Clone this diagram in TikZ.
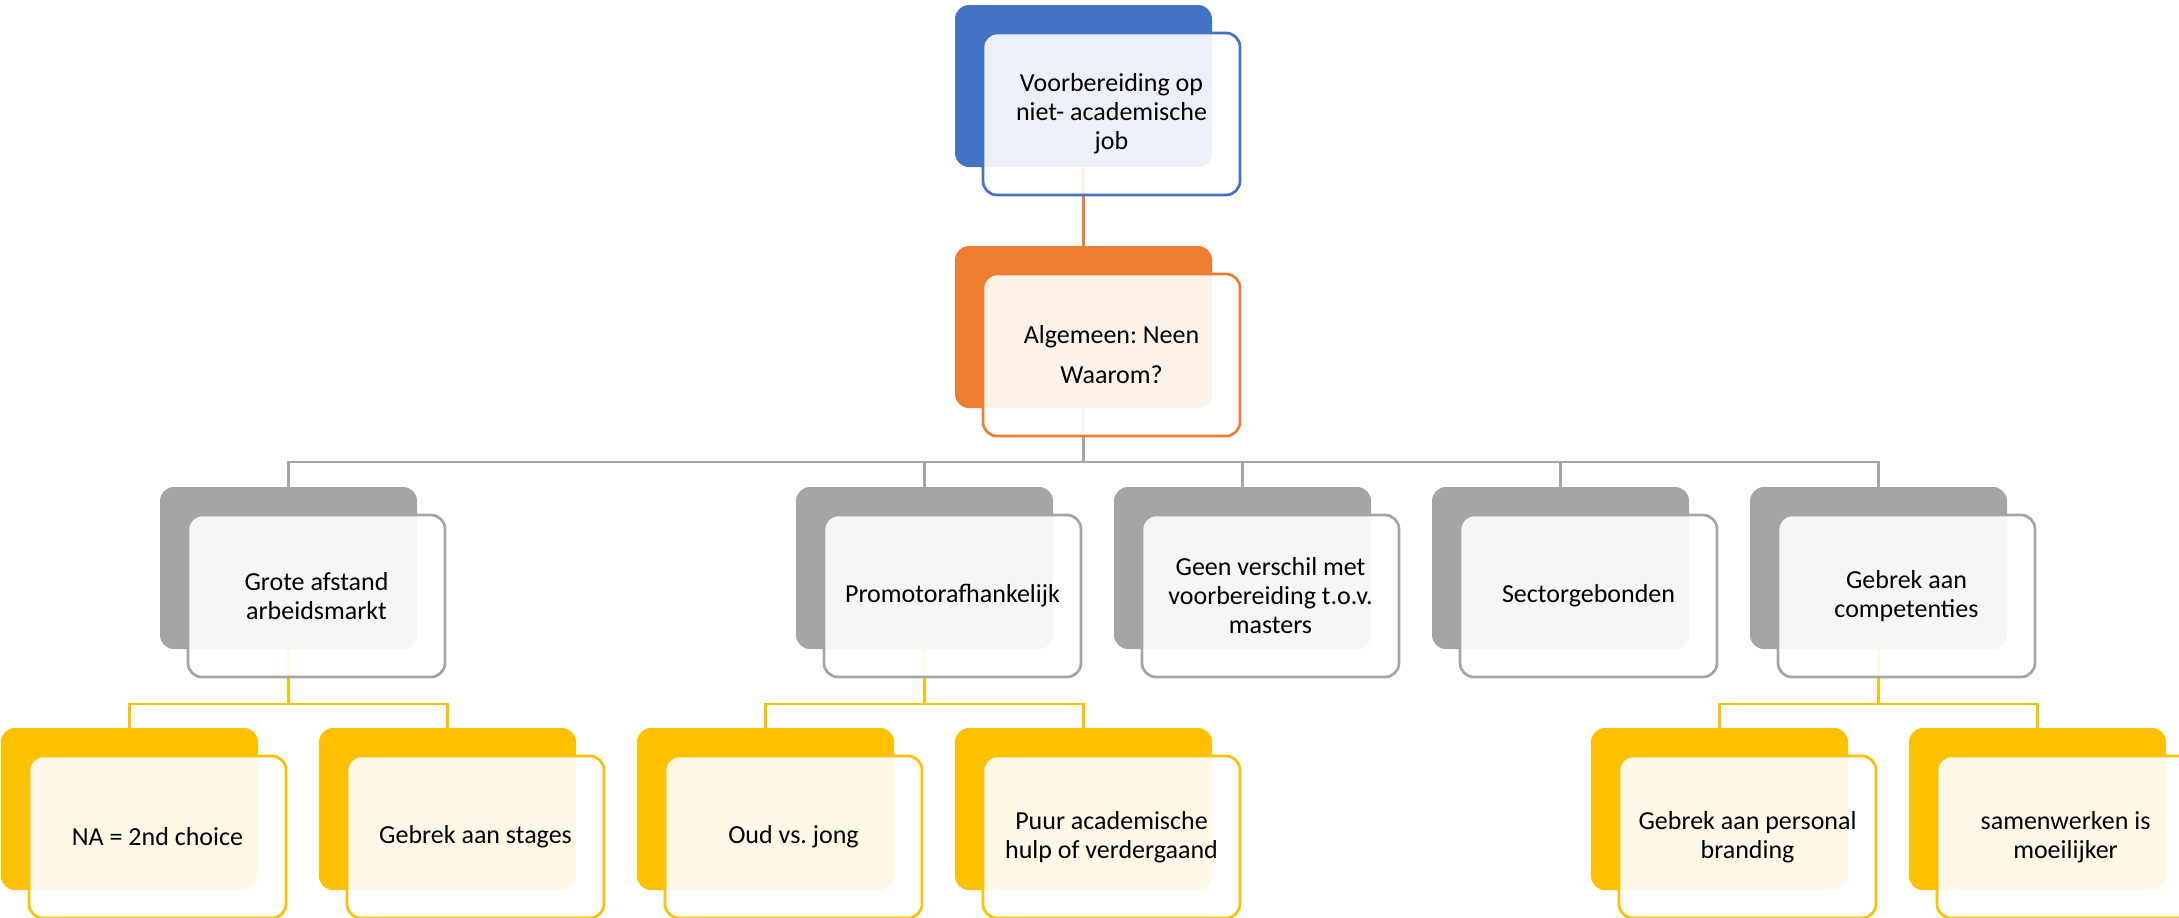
\documentclass[tikz,border=0pt]{standalone}
\usepackage{fontspec}
\setmainfont{Carlito}
\frenchspacing
\usetikzlibrary{positioning}

\definecolor{accblue}{HTML}{4472C4}
\definecolor{accorange}{HTML}{ED7D31}
\definecolor{accgray}{HTML}{A5A5A5}
\definecolor{accgold}{HTML}{FFC000}

\begin{document}
\begin{tikzpicture}
[on grid, node distance=241pt,
 back/.style={rounded corners=14pt, minimum width=257pt, minimum height=162pt,
              inner sep=0pt, outer sep=0pt},
 front/.style={back, fill=white, fill opacity=0.9, text opacity=1, line width=2.7pt,
               align=center, font=\fontsize{26pt}{29pt}\selectfont},
 link/.style={line width=2.7pt}]
\useasboundingbox (0,0) rectangle (2179pt,-918pt);

% back plates
\node[back, fill=accblue] (job) at (1083.5pt,-86pt) {};
\node[back, fill=accorange, below=of job] (alg) {};

\node[back, fill=accgray, below left=241pt and 795pt of alg] (grote) {};
\node[back, fill=accgray, below left=241pt and 159pt of alg] (promotor) {};
\node[back, fill=accgray, below right=241pt and 159pt of alg] (geen) {};
\node[back, fill=accgray, below right=241pt and 477pt of alg] (sector) {};
\node[back, fill=accgray, below right=241pt and 795pt of alg] (gebrek) {};

\node[back, fill=accgold, below left=241pt and 159pt of grote] (choice) {};
\node[back, fill=accgold, below right=241pt and 159pt of grote] (stages) {};
\node[back, fill=accgold, below left=241pt and 159pt of promotor] (oud) {};
\node[back, fill=accgold, below right=241pt and 159pt of promotor] (puur) {};
\node[back, fill=accgold, below left=241pt and 159pt of gebrek] (branding) {};
\node[back, fill=accgold, below right=241pt and 159pt of gebrek] (samen) {};

% connectors
\draw[link, accorange] (job.south) -- (alg.north);
\foreach \k in {grote,promotor,geen,sector,gebrek}
  \draw[link, accgray] (alg.south) |- ([yshift=25pt]\k.north) -- (\k.north);
\foreach \p/\k in {grote/choice, grote/stages, promotor/oud, promotor/puur,
                   gebrek/branding, gebrek/samen}
  \draw[link, accgold] (\p.south) |- ([yshift=24pt]\k.north) -- (\k.north);

% front cards
\node[front, draw=accblue, below right=28pt and 28pt of job] (job-t)
  {Voorbereiding op\\niet- academische\\job};
\node[front, draw=accorange, below right=28pt and 28pt of alg] (alg-t)
  {Algemeen: Neen\\[11pt]Waarom?};

\node[front, draw=accgray, below right=28pt and 28pt of grote] (grote-t)
  {Grote afstand\\arbeidsmarkt};
\node[front, draw=accgray, below right=28pt and 28pt of promotor] (promotor-t)
  {Promotorafhankelijk};
\node[front, draw=accgray, below right=28pt and 28pt of geen] (geen-t)
  {Geen verschil met\\voorbereiding t.o.v.\\masters};
\node[front, draw=accgray, below right=28pt and 28pt of sector] (sector-t)
  {Sectorgebonden};
\node[front, draw=accgray, below right=28pt and 28pt of gebrek] (gebrek-t)
  {Gebrek aan\\competenties};

\node[front, draw=accgold, below right=28pt and 28pt of choice] (choice-t)
  {NA = 2nd choice};
\node[front, draw=accgold, below right=28pt and 28pt of stages] (stages-t)
  {Gebrek aan stages};
\node[front, draw=accgold, below right=28pt and 28pt of oud] (oud-t)
  {Oud vs. jong};
\node[front, draw=accgold, below right=28pt and 28pt of puur] (puur-t)
  {Puur academische\\hulp of verdergaand};
\node[front, draw=accgold, below right=28pt and 28pt of branding] (branding-t)
  {Gebrek aan personal\\branding};
\node[front, draw=accgold, below right=28pt and 28pt of samen] (samen-t)
  {samenwerken is\\moeilijker};

\end{tikzpicture}
\end{document}
